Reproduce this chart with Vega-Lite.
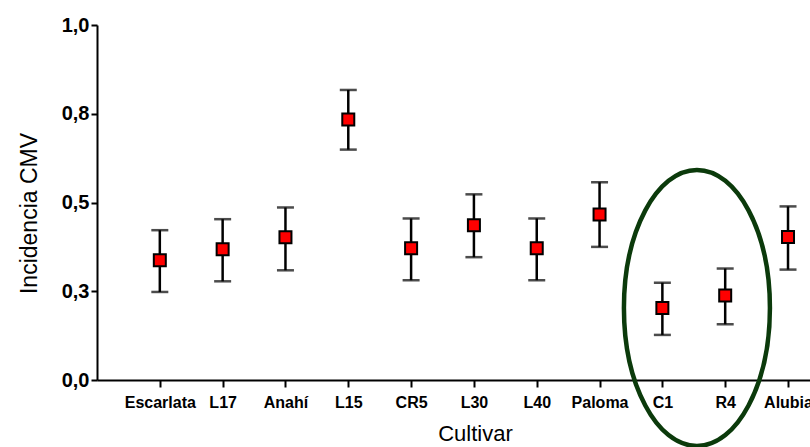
{
  "$schema": "https://vega.github.io/schema/vega-lite/v6.json",
  "autosize": {"type": "none"},
  "width": 713,
  "height": 355,
  "padding": {"left": 97, "top": 25, "right": 0, "bottom": 67},
  "background": "white",
  "config": {"view": {"stroke": null}, "font": "Liberation Sans"},
  "datasets": {
    "pts": [
      {"pos": 1, "cultivar": "Escarlata", "mean": 0.337, "lo": 0.248, "hi": 0.422},
      {"pos": 2, "cultivar": "L17", "mean": 0.368, "lo": 0.278, "hi": 0.453},
      {"pos": 3, "cultivar": "Anahí", "mean": 0.402, "lo": 0.309, "hi": 0.486},
      {"pos": 4, "cultivar": "L15", "mean": 0.734, "lo": 0.649, "hi": 0.817},
      {"pos": 5, "cultivar": "CR5", "mean": 0.371, "lo": 0.281, "hi": 0.455},
      {"pos": 6, "cultivar": "L30", "mean": 0.436, "lo": 0.346, "hi": 0.523},
      {"pos": 7, "cultivar": "L40", "mean": 0.371, "lo": 0.281, "hi": 0.455},
      {"pos": 8, "cultivar": "Paloma", "mean": 0.466, "lo": 0.375, "hi": 0.557},
      {"pos": 9, "cultivar": "C1", "mean": 0.203, "lo": 0.127, "hi": 0.274},
      {"pos": 10, "cultivar": "R4", "mean": 0.238, "lo": 0.157, "hi": 0.314},
      {"pos": 11, "cultivar": "Alubia", "mean": 0.403, "lo": 0.311, "hi": 0.489}
    ],
    "circle": [
      {"pos": 9.55, "mean": 0.203}
    ]
  },
  "encoding": {
    "x": {
      "field": "pos",
      "type": "quantitative",
      "scale": {"domain": [0, 11.35], "nice": false, "zero": false},
      "axis": {
        "values": [1, 2, 3, 4, 5, 6, 7, 8, 9, 10, 11],
        "labelExpr": "['','Escarlata','L17','Anahí','L15','CR5','L30','L40','Paloma','C1','R4','Alubia'][datum.value]",
        "title": "Cultivar",
        "titleFontSize": 22,
        "titleFontWeight": "normal",
        "titleColor": "black",
        "titlePadding": 13,
        "titleX": 378,
        "labelFontSize": 16,
        "labelFontWeight": "bold",
        "labelColor": "black",
        "labelPadding": 7,
        "labelOverlap": false,
        "labelFlush": false,
        "domainColor": "black",
        "domainWidth": 2,
        "tickColor": "black",
        "tickWidth": 2,
        "tickSize": 7,
        "grid": false
      }
    },
    "y": {
      "field": "mean",
      "type": "quantitative",
      "scale": {"domain": [0, 1], "nice": false},
      "axis": {
        "values": [0, 0.25, 0.5, 0.75, 1],
        "labelExpr": "datum.value == 0 ? '0,0' : datum.value == 0.25 ? '0,3' : datum.value == 0.5 ? '0,5' : datum.value == 0.75 ? '0,8' : '1,0'",
        "title": "Incidencia CMV",
        "titleFontSize": 23,
        "titleFontWeight": "normal",
        "titleColor": "black",
        "titleX": -68,
        "titleY": 188,
        "titleBaseline": "middle",
        "labelFontSize": 20,
        "labelFontWeight": "bold",
        "labelColor": "black",
        "labelPadding": 2,
        "domainColor": "black",
        "domainWidth": 2,
        "tickColor": "black",
        "tickWidth": 2,
        "tickSize": 6,
        "grid": false
      }
    }
  },
  "layer": [
    {
      "data": {"name": "pts"},
      "mark": {"type": "rule", "color": "black", "strokeWidth": 2.5},
      "encoding": {"y": {"field": "lo", "type": "quantitative"}, "y2": {"field": "hi"}}
    },
    {
      "data": {"name": "pts"},
      "mark": {"type": "tick", "orient": "horizontal", "color": "black", "size": 17, "thickness": 2.5},
      "encoding": {"y": {"field": "lo", "type": "quantitative"}}
    },
    {
      "data": {"name": "pts"},
      "mark": {"type": "tick", "orient": "horizontal", "color": "black", "size": 17, "thickness": 2.5},
      "encoding": {"y": {"field": "hi", "type": "quantitative"}}
    },
    {
      "data": {"name": "pts"},
      "mark": {"type": "point", "shape": "square", "filled": true, "fill": "#ff0000", "stroke": "black", "strokeWidth": 2, "size": 144, "opacity": 1}
    },
    {
      "data": {"name": "circle"},
      "mark": {
        "type": "point",
        "shape": "M 0 -1 C 0.292 -1 0.529 -0.552 0.529 0 C 0.529 0.552 0.292 1 0 1 C -0.292 1 -0.529 0.552 -0.529 0 C -0.529 -0.552 -0.292 -1 0 -1 Z",
        "size": 76176,
        "filled": false,
        "stroke": "#0b3a0b",
        "strokeWidth": 4.5,
        "opacity": 1,
        "clip": false
      }
    }
  ]
}
